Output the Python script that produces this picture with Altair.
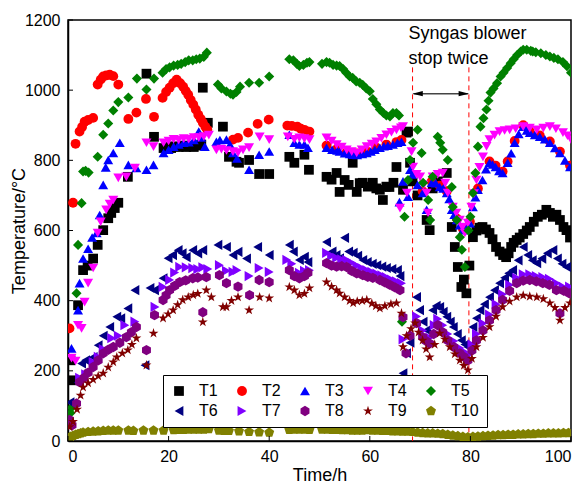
import altair as alt
import pandas as pd

series_names = ["T1", "T2", "T3", "T4", "T5", "T6", "T7", "T8", "T9", "T10"]
series_colors = ["#000000", "#FF0000", "#0000FF", "#FF00FF", "#008000",
                 "#000080", "#8000FF", "#800080", "#800000", "#808000"]
HEX = "M0,-1L0.866,-0.5L0.866,0.5L0,1L-0.866,0.5L-0.866,-0.5Z"
STAR = ("M0,-1L0.2245,-0.309L0.9511,-0.309L0.3633,0.118L0.5878,0.809L0,0.382"
        "L-0.5878,0.809L-0.3633,0.118L-0.9511,-0.309L-0.2245,-0.309Z")
PENT = "M0,-1L0.951,-0.309L0.588,0.809L-0.588,0.809L-0.951,-0.309Z"
series_shapes = ["square", "circle", "triangle-up", "triangle-down", "diamond",
                 "triangle-left", "triangle-right", HEX, STAR, PENT]
series_sizes = [95, 110, 150, 150, 170, 150, 150, 130, 190, 130]

T1 = [(0.5, 230), (0.7, 173), (2.0, 387), (3.0, 487), (3.9, 500), (5.0, 520), (5.9, 559),
      (7.0, 601), (8.0, 635), (8.6, 650), (9.3, 664), (10.0, 679), (11.9, 753), (15.6, 1047),
      (17.1, 867), (19.0, 835), (19.8, 838), (20.5, 835), (21.2, 840), (22.0, 838), (22.8, 842),
      (23.5, 838), (24.2, 840), (25.0, 838), (25.8, 842), (26.5, 845), (26.8, 1007), (27.8, 907),
      (30.8, 896), (32.0, 810), (33.5, 796), (34.0, 793), (36.0, 801), (38.0, 761), (40.0, 761),
      (44.0, 810), (45.0, 793), (47.0, 816), (47.9, 773), (51.4, 753), (52.4, 745), (53.4, 764),
      (54.0, 710), (55.0, 744), (55.8, 730), (56.6, 793), (57.4, 710), (58.0, 735), (58.6, 736),
      (59.6, 725), (60.6, 736), (61.3, 720), (62.0, 716), (62.6, 687), (63.3, 725), (63.9, 724),
      (64.7, 736), (65.3, 781), (66.6, 716), (67.3, 879), (67.6, 882), (68.0, 793), (68.5, 740),
      (69.5, 700), (71.3, 630), (71.9, 601), (72.5, 720), (73.5, 740), (75.3, 764), (76.3, 610),
      (76.9, 553), (77.5, 496), (78.2, 439), (78.7, 460), (79.2, 421), (79.8, 500), (80.5, 581),
      (81.2, 600), (81.8, 608), (82.4, 610), (83.1, 603), (83.8, 593), (84.4, 575), (85.1, 553),
      (85.8, 540), (86.5, 530), (87.1, 524), (87.6, 535), (88.1, 553), (88.6, 565), (89.2, 573),
      (89.8, 580), (90.5, 590), (91.2, 600), (91.8, 610), (92.6, 625), (93.4, 639), (94.2, 645),
      (95.1, 659), (95.8, 650), (96.4, 639), (97.1, 645), (97.8, 630), (98.5, 610), (99.1, 601),
      (99.8, 580)]

T2 = [(0.3, 321), (1.0, 679), (1.5, 847), (2.3, 882), (2.8, 895), (3.3, 910), (4.0, 915),
      (5.0, 921), (5.9, 1016), (6.5, 1030), (7.0, 1039), (7.6, 1042), (8.3, 1044), (9.0, 1040),
      (10.0, 1016), (12.0, 918), (13.6, 936), (15.5, 975), (17.1, 924), (18.8, 978), (19.5, 995),
      (20.2, 1007), (20.9, 1020), (21.6, 1030), (22.3, 1020), (22.9, 1010), (23.4, 998), (23.9, 987),
      (24.4, 972), (24.9, 959), (25.4, 945), (25.9, 930), (26.4, 918), (26.8, 907), (27.3, 896),
      (27.7, 887), (32.8, 859), (33.8, 864), (35.8, 879), (37.7, 904), (39.9, 916), (43.6, 899),
      (44.5, 898), (45.6, 896), (46.3, 890), (47.0, 887), (48.0, 882), (51.4, 842), (53.4, 832),
      (55.4, 823), (57.4, 820), (59.4, 826), (61.3, 836), (63.3, 845), (65.3, 852), (66.3, 858),
      (70.5, 712), (72.3, 740), (73.9, 728), (75.3, 712), (77.3, 634), (78.5, 605), (79.9, 625),
      (81.5, 720), (83.8, 797), (85.0, 785), (86.4, 768), (87.4, 797), (88.8, 855), (90.5, 900),
      (91.8, 883), (93.8, 871), (95.8, 854), (97.8, 825), (99.8, 785)]

T3 = [(0.7, 264), (2.0, 373), (2.3, 450), (3.0, 520), (4.0, 548), (4.8, 580), (5.7, 593),
      (6.3, 644), (7.0, 730), (7.5, 780), (8.0, 801), (9.0, 821), (10.3, 850), (12.0, 787),
      (13.6, 778), (15.6, 773), (17.0, 787), (19.0, 821), (20.0, 830), (21.0, 839), (22.0, 845),
      (23.0, 850), (24.0, 852), (25.0, 858), (26.0, 882), (26.5, 865), (27.2, 839), (29.5, 853),
      (30.2, 858), (31.5, 859), (32.2, 845), (32.8, 821), (33.6, 805), (36.0, 773), (38.0, 816),
      (40.0, 825), (44.0, 873), (45.0, 850), (46.0, 845), (47.0, 845), (47.7, 836), (51.4, 836),
      (52.5, 830), (53.5, 828), (54.0, 825), (55.0, 820), (56.0, 818), (56.7, 816), (57.5, 815),
      (58.5, 818), (59.4, 821), (60.2, 825), (61.0, 830), (62.0, 836), (62.8, 840), (63.6, 842),
      (64.6, 845), (65.5, 850), (66.3, 853), (65.9, 681), (66.6, 740), (67.6, 696), (68.0, 773),
      (68.5, 760), (69.5, 730), (70.5, 707), (71.3, 659), (72.3, 736), (73.1, 735), (73.9, 724),
      (74.6, 720), (75.3, 707), (75.8, 690), (76.3, 659), (76.8, 645), (77.3, 630), (77.9, 615),
      (78.5, 601), (79.2, 605), (79.9, 621), (80.5, 667), (81.0, 695), (81.5, 716), (82.4, 744),
      (83.1, 775), (83.8, 793), (84.4, 788), (85.0, 781), (85.7, 770), (86.4, 764), (87.4, 793),
      (88.1, 820), (88.8, 850), (89.6, 875), (90.5, 896), (91.2, 885), (91.8, 879), (92.8, 872),
      (93.8, 867), (94.8, 860), (95.8, 850), (96.8, 835), (97.8, 821), (98.8, 800), (99.8, 781)]

T4 = [(0.7, 236), (1.5, 228), (2.0, 330), (2.7, 321), (3.3, 396), (4.0, 450), (5.0, 493),
      (5.9, 593), (6.5, 625), (7.6, 659), (8.3, 675), (9.0, 687), (10.0, 750), (11.6, 753),
      (13.3, 778), (15.6, 850), (17.0, 839), (19.0, 850), (20.0, 855), (21.0, 860), (22.0, 858),
      (23.0, 862), (24.0, 860), (25.0, 865), (26.0, 865), (27.0, 868), (28.0, 872), (29.5, 830),
      (30.5, 832), (31.5, 828), (32.8, 825), (33.8, 822), (34.8, 830), (36.0, 836), (38.1, 867),
      (40.0, 859), (43.7, 867), (45.0, 860), (46.0, 864), (47.0, 862), (48.0, 859), (51.4, 864),
      (52.4, 855), (53.4, 845), (54.4, 838), (55.4, 830), (56.4, 825), (57.4, 821), (58.4, 830),
      (59.4, 839), (60.4, 846), (61.3, 853), (62.3, 863), (63.3, 873), (64.3, 880), (65.3, 887),
      (66.2, 893), (66.6, 896), (66.0, 664), (67.4, 707), (68.3, 825), (68.6, 781), (69.3, 760),
      (70.0, 753), (70.7, 730), (71.3, 707), (71.6, 650), (72.5, 753), (73.5, 760), (74.5, 764),
      (75.0, 735), (75.5, 707), (76.5, 667), (77.2, 650), (77.9, 630), (78.4, 610), (78.9, 593),
      (79.5, 621), (80.2, 667), (80.7, 705), (81.2, 744), (81.8, 780), (82.5, 810), (83.2, 840),
      (83.8, 859), (84.8, 872), (85.8, 882), (86.8, 885), (87.8, 887), (89.0, 890), (90.5, 896),
      (91.8, 892), (93.2, 887), (94.5, 892), (95.8, 896), (97.0, 890), (98.4, 879), (99.3, 870),
      (100.0, 859)]

T5 = [(0.5, 80), (0.7, 95), (1.7, 421), (2.0, 559), (2.7, 678), (3.0, 768), (3.5, 770),
      (4.1, 765), (5.9, 810), (7.0, 873), (8.0, 905), (9.0, 942), (10.0, 966), (12.0, 979),
      (13.7, 1033), (15.6, 1002), (17.1, 1033), (18.8, 1050), (19.5, 1060), (20.2, 1065),
      (21.0, 1070), (21.8, 1072), (22.5, 1075), (23.3, 1080), (24.0, 1085), (24.8, 1085),
      (25.5, 1088), (26.2, 1090), (27.0, 1095), (27.6, 1107), (29.8, 1016), (30.5, 1005),
      (31.5, 996), (32.3, 990), (32.8, 987), (33.5, 995), (34.2, 1010), (36.0, 1021), (38.0, 1021),
      (40.0, 1039), (44.0, 1088), (44.8, 1085), (45.5, 1075), (46.0, 1069), (46.8, 1072),
      (47.5, 1078), (48.0, 1080), (50.5, 1075), (51.4, 1080), (52.0, 1078), (52.7, 1072),
      (53.4, 1070), (54.0, 1069), (54.7, 1060), (55.3, 1050), (56.0, 1039), (56.6, 1035),
      (57.3, 1025), (58.0, 1021), (58.6, 1015), (59.3, 1005), (60.0, 997), (60.6, 975),
      (61.3, 960), (62.0, 945), (62.7, 935), (63.3, 928), (64.0, 925), (64.6, 935), (65.3, 935),
      (65.8, 928), (66.4, 340), (66.9, 639), (67.6, 744), (68.0, 801), (68.6, 850), (69.5, 887),
      (70.3, 821), (70.6, 736), (71.6, 687), (72.0, 630), (72.5, 753), (73.5, 867), (74.0, 850),
      (74.5, 830), (75.5, 801), (76.3, 724), (76.5, 667), (77.3, 630), (77.9, 581), (78.3, 545),
      (78.9, 496), (79.6, 600), (80.0, 639), (80.5, 707), (81.0, 764), (81.5, 839), (82.0, 896),
      (82.6, 920), (83.2, 945), (83.6, 970), (84.0, 993), (84.6, 1005), (85.3, 1020), (86.0, 1039),
      (86.6, 1050), (87.3, 1063), (88.0, 1077), (88.6, 1088), (89.3, 1100), (90.0, 1110),
      (90.5, 1115), (91.2, 1115), (92.0, 1112), (92.4, 1110), (93.0, 1108), (94.0, 1105),
      (95.0, 1100), (95.8, 1096), (96.6, 1092), (97.4, 1088), (98.4, 1080), (99.2, 1068),
      (100.0, 1050)]

T6 = [(0.4, 110), (2.0, 167), (2.7, 221), (3.5, 230), (5.0, 239), (6.0, 273), (7.0, 300),
      (8.3, 325), (9.7, 354), (10.5, 350), (11.9, 378), (13.3, 430), (15.3, 216), (16.3, 436),
      (17.2, 430), (18.9, 464), (19.9, 521), (20.8, 530), (21.9, 544), (22.7, 535), (23.5, 524),
      (24.8, 544), (25.8, 535), (26.8, 544), (29.8, 559), (31.5, 553), (32.8, 530), (33.8, 539),
      (35.5, 520), (37.7, 553), (40.0, 530), (44.0, 559), (44.8, 540), (46.0, 516), (47.0, 525),
      (47.7, 510), (51.4, 567), (52.5, 540), (53.3, 530), (54.0, 521), (55.0, 579), (55.8, 540),
      (56.7, 536), (57.6, 528), (58.6, 516), (59.5, 510), (60.5, 505), (61.4, 501), (62.4, 497),
      (63.3, 493), (64.4, 490), (65.5, 487), (66.0, 470), (66.6, 193), (67.3, 250), (68.0, 280),
      (69.3, 410), (69.9, 373), (70.6, 340), (71.3, 316), (72.5, 373), (73.2, 385), (73.9, 382),
      (74.6, 368), (75.3, 354), (76.0, 340), (76.6, 325), (77.4, 305), (78.2, 287), (78.9, 275),
      (79.5, 268), (80.5, 325), (81.2, 350), (81.9, 373), (82.8, 390), (83.8, 410), (84.8, 430),
      (85.8, 450), (86.8, 465), (87.6, 478), (88.4, 487), (89.5, 515), (90.5, 553), (91.4, 530),
      (92.3, 515), (93.2, 507), (94.2, 520), (95.3, 535), (96.4, 544), (97.3, 520), (98.2, 505),
      (99.1, 496)]

T7 = [(2.3, 180), (3.5, 190), (5.0, 225), (6.0, 240), (7.0, 262), (8.7, 293), (10.0, 300),
      (11.3, 330), (13.3, 340), (17.3, 382), (18.9, 439), (20.2, 459), (21.2, 480), (22.2, 496),
      (23.5, 495), (24.8, 493), (25.8, 490), (26.8, 495), (27.8, 490), (30.1, 501), (31.5, 485),
      (32.8, 482), (33.6, 487), (36.0, 470), (38.0, 493), (40.0, 482), (43.5, 516), (44.5, 505),
      (46.0, 479), (47.0, 485), (48.0, 487), (51.4, 536), (52.4, 528), (53.4, 522), (54.4, 518),
      (55.4, 516), (56.4, 508), (57.4, 500), (58.4, 493), (59.4, 487), (60.4, 482), (61.4, 477),
      (62.4, 472), (63.3, 467), (64.3, 460), (65.3, 455), (66.3, 450), (66.6, 290), (69.3, 355),
      (70.5, 315), (71.9, 295), (72.8, 330), (73.5, 348), (74.5, 330), (75.5, 305), (76.7, 285),
      (77.9, 265), (78.7, 255), (79.5, 245), (80.3, 275), (81.2, 305), (82.5, 335), (83.8, 360),
      (85.1, 390), (86.4, 418), (87.8, 445), (89.2, 465), (90.5, 475), (91.8, 475), (93.1, 470),
      (94.4, 467), (95.7, 462), (97.1, 450), (98.4, 440), (99.7, 440)]

T8 = [(0.3, 60), (0.8, 45), (1.7, 107), (2.3, 168), (3.2, 180), (4.0, 195), (5.0, 211),
      (6.0, 230), (7.0, 250), (8.0, 260), (9.0, 268), (10.3, 280), (11.6, 296), (12.6, 310),
      (13.6, 325), (15.6, 259), (17.2, 359), (18.9, 402), (19.5, 415), (20.2, 430), (21.2, 442),
      (22.2, 453), (23.4, 458), (24.8, 464), (25.8, 466), (26.8, 367), (27.5, 467), (30.1, 473),
      (31.5, 450), (33.8, 440), (36.1, 416), (38.0, 459), (40.0, 453), (44.0, 487), (45.0, 470),
      (46.0, 464), (47.0, 470), (47.7, 479), (51.4, 507), (52.4, 500), (53.4, 497), (54.4, 498),
      (55.4, 496), (56.4, 485), (57.4, 478), (58.6, 473), (59.6, 468), (60.6, 465), (62.0, 459),
      (63.0, 452), (64.0, 445), (65.0, 438), (66.0, 430), (66.6, 353), (67.2, 250), (68.0, 300),
      (69.3, 336), (70.5, 296), (71.2, 285), (71.9, 278), (72.7, 305), (73.5, 330), (74.5, 310),
      (75.5, 287), (76.7, 268), (77.9, 250), (78.7, 240), (79.5, 230), (80.3, 258), (81.2, 287),
      (82.5, 315), (83.8, 344), (85.1, 373), (86.4, 402), (87.8, 428), (89.2, 450), (90.5, 457),
      (91.8, 459), (93.1, 455), (94.4, 450), (95.7, 445), (97.1, 430), (97.8, 364), (98.6, 428),
      (99.7, 421)]

T9 = [(0.3, 40), (1.0, 55), (1.8, 90), (2.5, 130), (3.0, 153), (4.0, 165), (5.0, 175),
      (6.0, 185), (7.0, 193), (8.0, 210), (9.0, 225), (9.7, 239), (10.8, 250), (11.9, 259),
      (12.7, 275), (13.6, 293), (15.6, 216), (17.0, 307), (18.9, 350), (19.9, 362), (20.9, 373),
      (21.8, 388), (22.8, 402), (23.9, 410), (24.9, 416), (25.8, 420), (26.8, 339), (27.5, 430),
      (28.5, 410), (30.8, 382), (31.5, 382), (32.5, 400), (33.8, 410), (36.0, 373), (38.1, 410),
      (40.0, 407), (44.0, 439), (45.0, 430), (46.0, 416), (47.0, 420), (48.0, 436), (51.4, 453),
      (52.4, 440), (53.4, 430), (54.0, 421), (55.0, 410), (56.0, 400), (56.7, 393), (57.5, 398),
      (58.5, 400), (59.4, 402), (60.4, 392), (61.2, 385), (62.0, 378), (63.0, 385), (64.2, 390),
      (65.3, 393), (66.3, 364), (66.6, 268), (67.3, 300), (68.2, 320), (69.0, 336), (69.7, 310),
      (70.5, 287), (71.2, 262), (71.9, 239), (72.9, 275), (73.9, 307), (74.9, 290), (75.9, 268),
      (76.9, 248), (77.9, 230), (78.7, 215), (79.5, 202), (80.3, 235), (81.2, 268), (82.5, 295),
      (83.8, 325), (85.1, 355), (86.4, 382), (87.8, 398), (89.2, 410), (90.5, 415), (91.8, 412),
      (93.2, 410), (94.5, 405), (95.8, 393), (96.8, 380), (97.8, 344), (98.8, 380), (99.8, 393)]

T10 = [(0.0, 8), (0.5, 12), (1.0, 15), (1.5, 18), (2.0, 20), (2.5, 22), (3.0, 24), (4.0, 26),
       (5.0, 27), (6.0, 28), (7.0, 29), (8.0, 30), (9.0, 30), (10.0, 30), (12.0, 30), (13.0, 29),
       (15.0, 30), (17.0, 30), (19.0, 30), (21.0, 31), (22.0, 32), (23.0, 32), (24.0, 33),
       (25.0, 33), (26.0, 33), (27.0, 33), (28.0, 34), (30.0, 30), (31.0, 29), (32.0, 29),
       (34.0, 28), (36.0, 26), (38.0, 25), (40.0, 24), (44.0, 32), (45.0, 33), (46.0, 33),
       (47.0, 33), (48.0, 32), (50.5, 33), (51.5, 33), (52.5, 32), (53.5, 32), (54.5, 31),
       (55.5, 31), (56.5, 30), (57.5, 30), (58.5, 30), (59.5, 31), (60.5, 30), (61.5, 30),
       (62.5, 29), (63.5, 29), (64.5, 28), (65.5, 28), (66.5, 27), (67.5, 27), (68.5, 26),
       (69.5, 24), (70.5, 23), (71.5, 22), (72.5, 22), (73.5, 21), (74.5, 20), (75.5, 18),
       (76.5, 16), (77.5, 14), (78.5, 12), (79.5, 11), (80.5, 12), (81.5, 13), (82.5, 14),
       (83.5, 15), (84.5, 16), (85.5, 17), (86.5, 17), (87.5, 18), (88.5, 18), (89.5, 19),
       (90.5, 19), (91.5, 20), (92.5, 20), (93.5, 21), (94.5, 21), (95.5, 22), (96.5, 22),
       (97.5, 22), (98.5, 23), (99.5, 23)]

x_ticks = [0, 20, 40, 60, 80, 100]
y_ticks = [0, 200, 400, 600, 800, 1000, 1200]

stop_times = [68.5, 79.7]
stop_top = 1065
arrow_level = 990
annotation_lines = ["Syngas blower", "stop twice"]
annotation_t = 67.7
annotation_levels = [1159, 1088]

FONT = "Liberation Sans"

rows = []
for name, pts in zip(series_names, [T1, T2, T3, T4, T5, T6, T7, T8, T9, T10]):
    for t, v in pts:
        rows.append({"series": name, "time": t, "temp": v})
df = pd.DataFrame(rows)

x_scale = alt.Scale(domain=[0, 100], nice=False, zero=False)
y_scale = alt.Scale(domain=[0, 1200], nice=False)

legend = alt.Legend(
    title=None, orient="none", legendX=95, legendY=355, columns=5, direction="horizontal",
    labelFont=FONT, labelFontSize=16, labelColor="black", labelOffset=12,
    columnPadding=16, rowPadding=4, padding=8, strokeColor="black",
    fillColor="white", symbolStrokeWidth=0, symbolOpacity=1,
)

points = alt.Chart(df).mark_point(filled=True, opacity=1, clip=True, strokeWidth=0).encode(
    x=alt.X("time:Q", scale=x_scale,
            axis=alt.Axis(title="Time/h", values=x_ticks, format="d", labelPadding=7,
                          titlePadding=2)),
    y=alt.Y("temp:Q", scale=y_scale,
            axis=alt.Axis(title="Temperature/°C", values=y_ticks, format="d", labelPadding=8,
                          titlePadding=-4)),
    color=alt.Color("series:N", scale=alt.Scale(domain=series_names, range=series_colors),
                    legend=legend),
    shape=alt.Shape("series:N", scale=alt.Scale(domain=series_names, range=series_shapes),
                    legend=legend),
    size=alt.Size("series:N", scale=alt.Scale(domain=series_names, range=series_sizes),
                  legend=legend),
)

xt = alt.Chart(pd.DataFrame({"v": x_ticks})).mark_rule(color="black", strokeWidth=1).encode(
    x=alt.X("v:Q", scale=x_scale), y=alt.value(421), y2=alt.value(416))
yt = alt.Chart(pd.DataFrame({"v": y_ticks})).mark_rule(color="black", strokeWidth=1).encode(
    y=alt.Y("v:Q", scale=y_scale), x=alt.value(0), x2=alt.value(5))

stop_df = pd.DataFrame({"t": stop_times, "top": [stop_top] * 2, "bottom": [0] * 2})
stops = alt.Chart(stop_df).mark_rule(color="#FF0000", strokeWidth=1, strokeDash=[5, 4]).encode(
    x=alt.X("t:Q", scale=x_scale), y=alt.Y("top:Q", scale=y_scale), y2="bottom:Q")

arrow_df = pd.DataFrame({"a": [stop_times[0] + 0.2], "b": [stop_times[1] - 0.2], "y": [arrow_level]})
arrow = alt.Chart(arrow_df).mark_rule(color="#444444", strokeWidth=1.5).encode(
    x=alt.X("a:Q", scale=x_scale), x2="b:Q", y=alt.Y("y:Q", scale=y_scale))

head_df = pd.DataFrame({
    "t": [stop_times[0] + 1.0, stop_times[1] - 1.0],
    "y": [arrow_level] * 2,
    "shape": ["M-1,0L1,-0.5L1,0.5Z", "M1,0L-1,-0.5L-1,0.5Z"],
})
heads = alt.Chart(head_df).mark_point(filled=True, opacity=1, color="black", size=110,
                                      strokeWidth=0).encode(
    x=alt.X("t:Q", scale=x_scale), y=alt.Y("y:Q", scale=y_scale),
    shape=alt.Shape("shape:N", scale=None))

text_df = pd.DataFrame({"t": [annotation_t] * 2, "y": annotation_levels, "label": annotation_lines})
texts = alt.Chart(text_df).mark_text(align="left", baseline="middle", font=FONT, fontSize=18,
                                     color="black").encode(
    x=alt.X("t:Q", scale=x_scale), y=alt.Y("y:Q", scale=y_scale), text="label:N")

chart = alt.layer(stops, arrow, heads, points, texts, xt, yt).properties(
    width=503, height=421,
    autosize=alt.AutoSizeParams(type="none"),
    padding={"left": 68, "top": 20, "right": 14, "bottom": 43},
).configure_view(
    stroke="black", strokeWidth=1.5
).configure_axis(
    grid=False, domainColor="black", domainWidth=1.5, tickSize=0,
    labelFont=FONT, labelFontSize=16, labelColor="black",
    titleFont=FONT, titleFontSize=18, titleFontWeight="normal", titleColor="black",
)

chart.save("out.html", embed_options={"renderer": "svg", "actions": False})
